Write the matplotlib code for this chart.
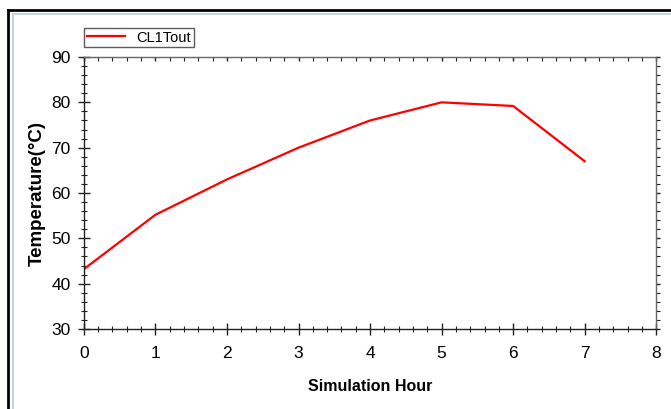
# CL1Tout temperature vs simulation hour
import matplotlib
matplotlib.use('Agg')
from matplotlib import pyplot as plt
from matplotlib.ticker import MultipleLocator
from matplotlib.lines import Line2D

plt.rcParams['font.family'] = ['Liberation Sans', 'DejaVu Sans']

hours = [0, 1, 2, 3, 4, 5, 6, 7]
cl1_tout = [43.2, 55.2, 63.0, 70.0, 76.0, 80.0, 79.2, 67.0]

fig = plt.figure(figsize=(6.71, 4.09), dpi=100)
ax = fig.add_axes([0.125, 0.1956, 0.853, 0.665])

ax.plot(hours, cl1_tout, color='red', lw=1.6, label='CL1Tout')

ax.set_xlim(0, 8)
ax.set_ylim(30, 90)
ax.xaxis.set_major_locator(MultipleLocator(1))
ax.xaxis.set_minor_locator(MultipleLocator(0.2))
ax.yaxis.set_major_locator(MultipleLocator(10))
ax.yaxis.set_minor_locator(MultipleLocator(2))

for s in ax.spines.values():
    s.set_linewidth(1.0)
    s.set_color('#222222')
ax.spines['top'].set_color('#666666')
ax.spines['right'].set_color('#666666')

ax.tick_params(which='major', direction='inout', length=9, width=1.0,
               color='#222222', labelsize=12.5)
ax.tick_params(axis='x', which='major', pad=8)
ax.tick_params(axis='y', which='major', pad=5)
ax.tick_params(which='minor', direction='inout', length=5, width=0.8, color='#222222')
ax.tick_params(which='both', top=True, right=True)
# ticks on top/right point inward only
for t in ax.xaxis.get_major_ticks() + ax.xaxis.get_minor_ticks():
    t.tick2line.set_marker(3)
    t.tick2line.set_markersize(3)
for t in ax.yaxis.get_major_ticks() + ax.yaxis.get_minor_ticks():
    t.tick2line.set_marker(1)
    t.tick2line.set_markersize(3)

ax.set_xlabel('Simulation Hour', fontsize=11.5, fontweight='bold', labelpad=13)
ax.set_ylabel('Temperature(°C)', fontsize=13.5, fontweight='bold', labelpad=4)

leg = ax.legend(loc='lower left', bbox_to_anchor=(0.0, 1.035), fontsize=10.5,
                frameon=True, fancybox=False, borderpad=0.2, handlelength=2.6,
                borderaxespad=0, handletextpad=0.8)
leg.get_frame().set_edgecolor('#333333')
leg.get_frame().set_linewidth(1.0)

# double border of the window at top and left
W, H = 671, 409
fig.add_artist(Line2D([8 / W, 8 / W], [0, 1 - 10 / H], color='black', lw=2))
fig.add_artist(Line2D([8 / W, 1], [1 - 10 / H, 1 - 10 / H], color='black', lw=2))
fig.add_artist(Line2D([12.5 / W, 12.5 / W], [0, 1 - 13.5 / H], color='#c4d4dc', lw=1.5))
fig.add_artist(Line2D([12.5 / W, 1], [1 - 13.5 / H, 1 - 13.5 / H], color='#c4d4dc', lw=1.5))

fig.savefig('out.png', dpi=100)
